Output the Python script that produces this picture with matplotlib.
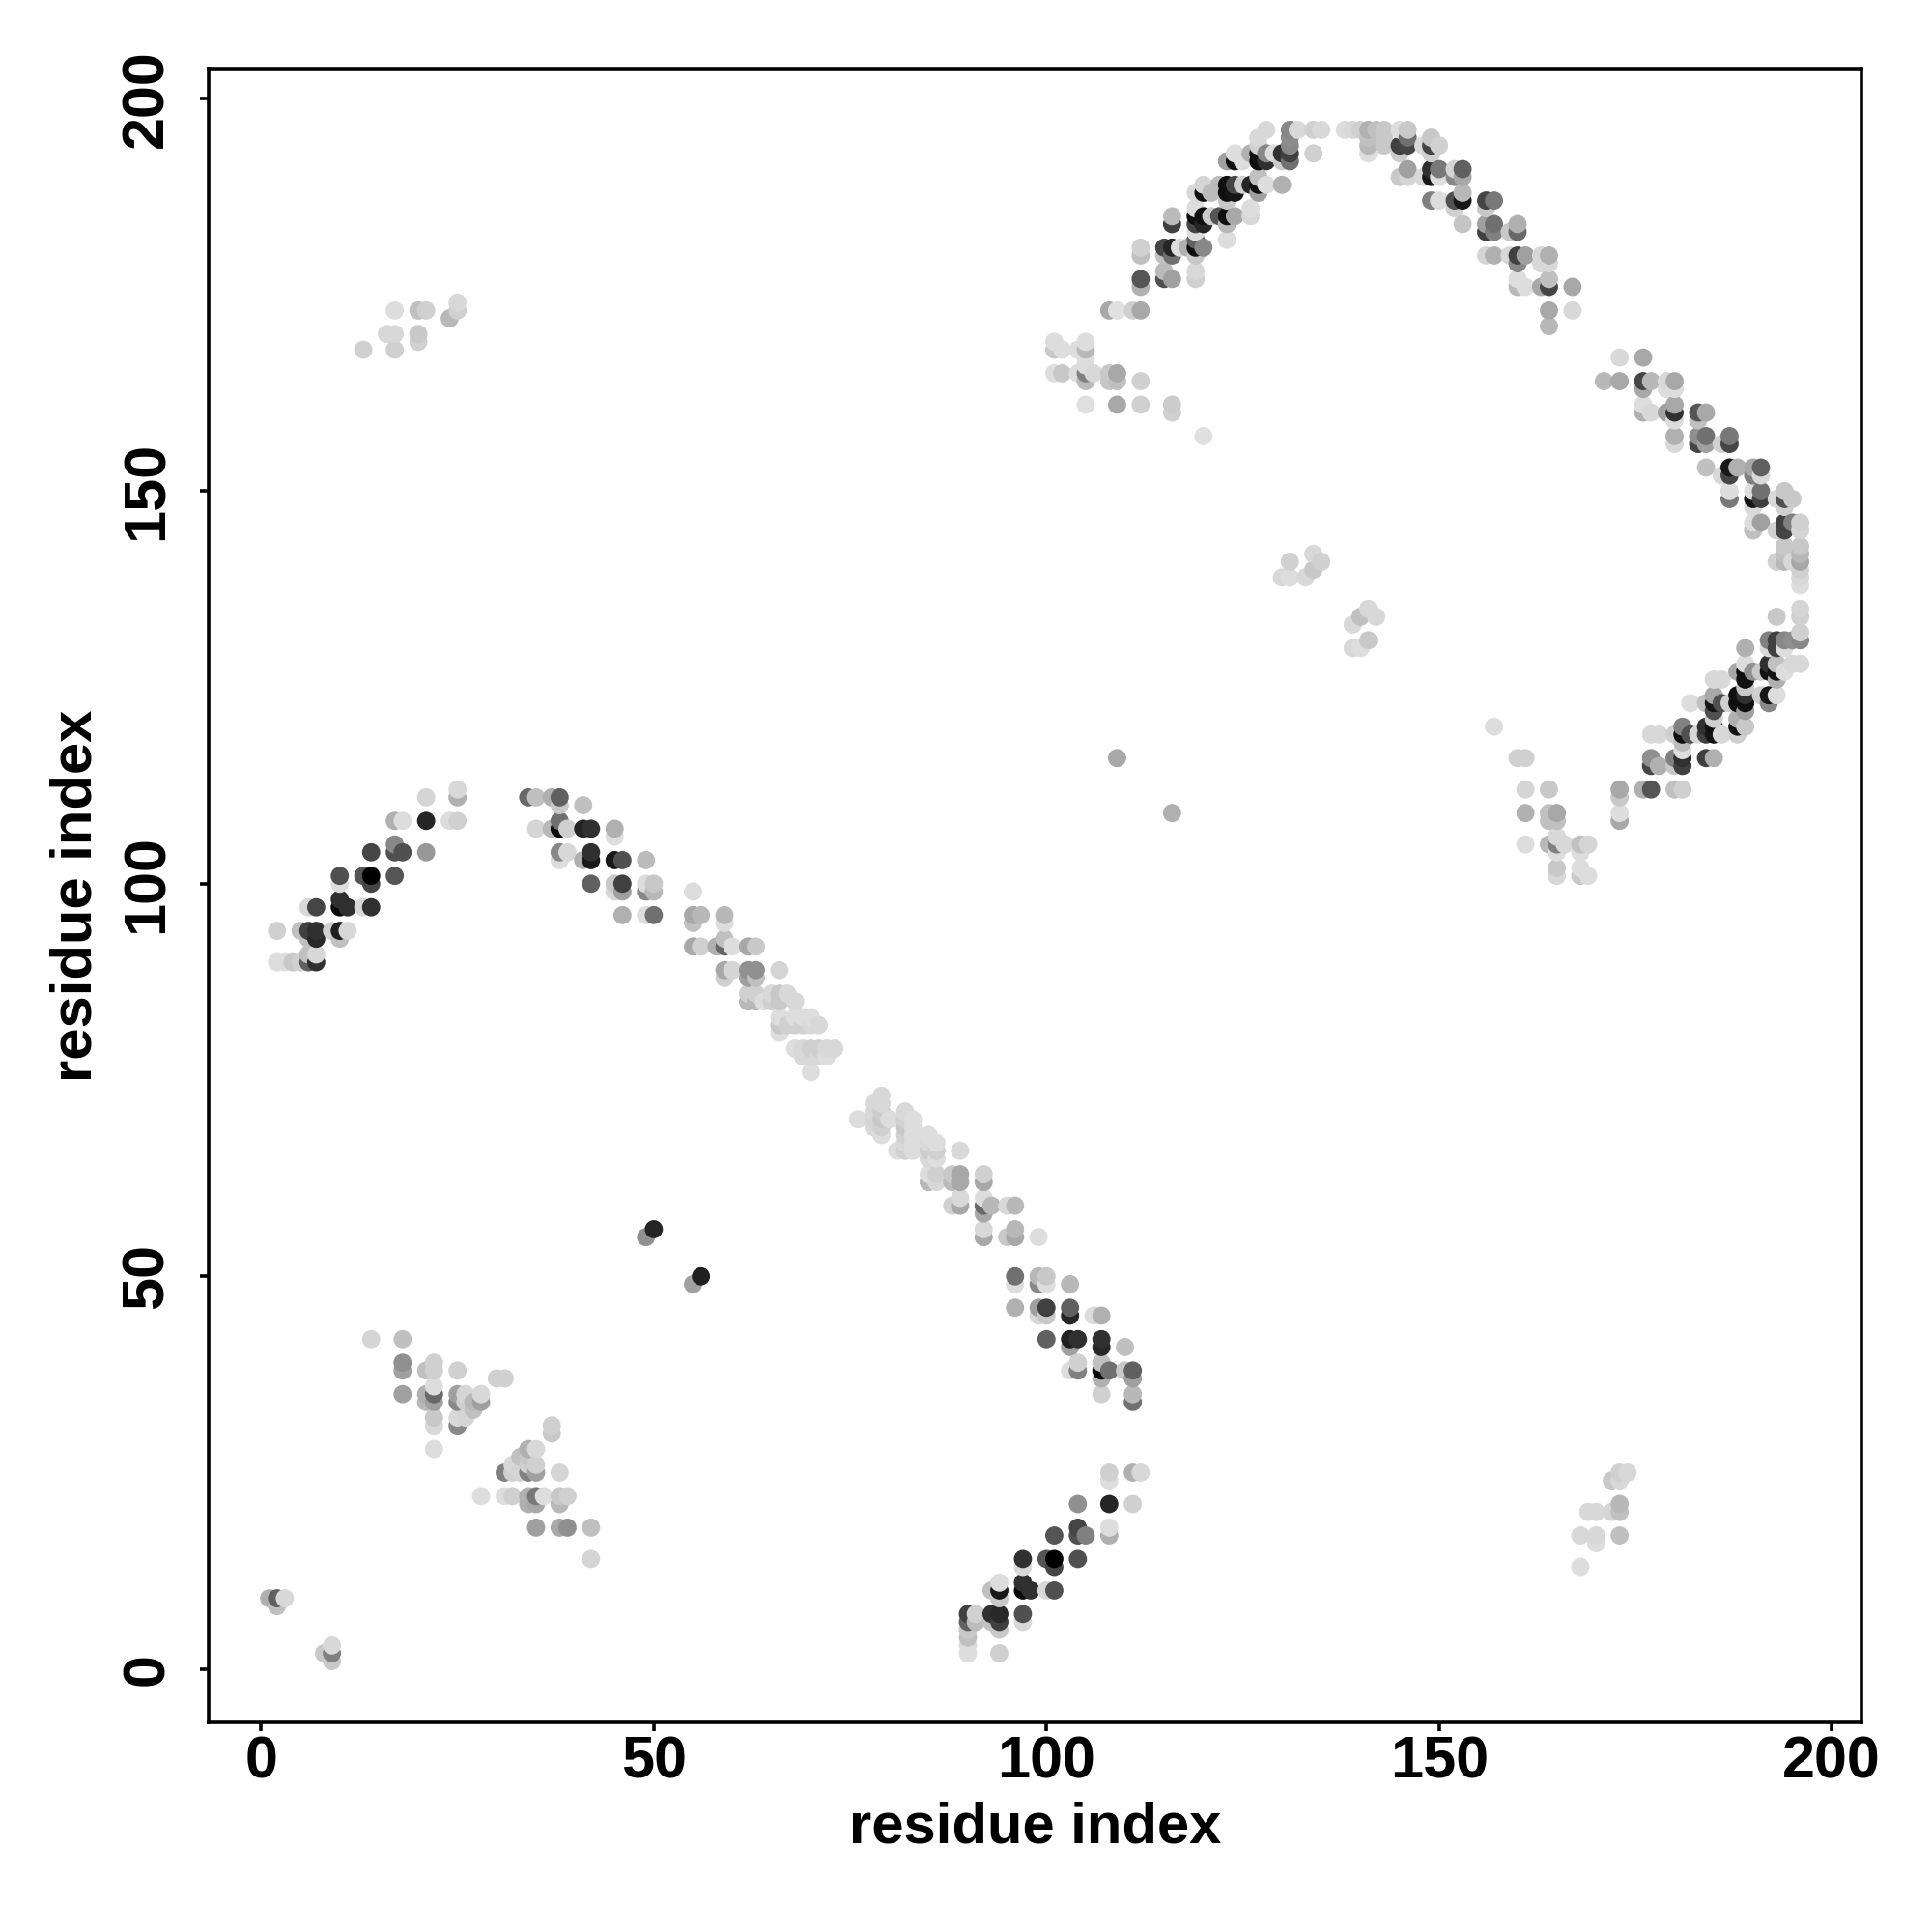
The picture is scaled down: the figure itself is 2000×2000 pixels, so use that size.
import pandas as pd
import matplotlib
matplotlib.use("Agg")
import matplotlib.pyplot as plt

plt.rcParams['font.family'] = ['Liberation Sans', 'DejaVu Sans']

# contacts: (residue i, residue j, grey level 0-255)
top_arm = [
    (101,169,0xdd),(101,168,0xc8),(102,168,0xdd),(105,169,0xdd),(105,168,0xb8),(104,168,0xdd),
    (101,165,0xdd),(102,165,0xc8),(104,165,0xdd),(105,165,0x80),(105,166,0xdd),(105,167,0xdd),(106,165,0xd8),
    (105,164,0xbb),(108,165,0xc8),(108,164,0xc8),(109,165,0xa8),(109,164,0xc0),(112,164,0xd0),
    (105,161,0xe0),(109,161,0xa8),(112,161,0xd0),(116,161,0xcc),(116,160,0xd0),(120,157,0xe0),
    (108,173,0xa8),(109,173,0xe0),(111,173,0xd0),(112,173,0xa8),
    (112,177,0x55),(112,176,0xb0),(115,178,0xbb),(115,177,0x50),(116,177,0xa0),(119,178,0xd8),(119,177,0xd0),
    (112,181,0xd0),(112,180,0xc0),(115,181,0x45),(116,181,0x25),(116,180,0x70),(115,180,0xc0),(117,181,0xdd),
    (118,181,0xb0),(119,181,0x10),(120,181,0x88),(119,180,0xc8),(119,182,0x60),(119,183,0xdd),
    (116,184,0x40),(116,185,0xbb),(119,184,0x45),(120,184,0x25),(119,185,0x10),(120,185,0x10),(119,186,0xdd),
    (121,185,0xcc),(122,185,0x55),(123,185,0x10),(124,185,0xa8),(123,184,0xb8),(126,186,0xdd),(126,185,0xd8),(123,182,0xdd),
    (119,188,0xd8),(120,189,0xd5),(120,188,0x10),(121,188,0xbb),(122,189,0xbb),(123,189,0x10),(123,188,0x10),
    (124,188,0x15),(124,189,0x45),(123,187,0xc8),(125,189,0xd0),(126,189,0x25),(127,188,0xa0),(127,189,0x10),
    (128,189,0xdd),(130,189,0xb0),(127,190,0xc0),
    (123,192,0xa0),(124,193,0xdd),(124,192,0x10),(125,192,0xdd),(126,193,0xb0),(127,193,0x10),(127,192,0x10),
    (128,192,0x30),(128,193,0x88),(129,193,0xdd),(130,193,0x30),(130,192,0xcc),(131,192,0x70),(131,193,0x40),
    (131,194,0x88),(131,195,0x8c),(131,196,0x88),(132,196,0xd8),(127,195,0xd8),(128,196,0xd8),(127,194,0xd0),
    (134,196,0xd0),(135,196,0xd8),(134,193,0xd0),
    (138,196,0xdd),(139,196,0xd8),(140,196,0xd0),(141,196,0xb0),(142,196,0xc0),(143,196,0xc8),(141,195,0xc0),
    (141,194,0xb8),(141,193,0xdd),(143,195,0xc8),(143,194,0xc8),(145,196,0xdd),(146,196,0xc8),
    (145,194,0x40),(146,194,0x45),(146,195,0x70),(145,193,0xcc),
    (149,195,0xc8),(149,194,0x45),(149,193,0xd0),(148,194,0xd8),(150,194,0xd0),
    (146,191,0xa0),(145,190,0xc8),(146,190,0xd5),(148,190,0xd8),(149,191,0x30),(149,190,0x18),(150,191,0x78),
    (150,190,0xdd),(152,191,0xd5),(153,191,0x60),(152,190,0x88),(153,190,0xa8),
    (149,187,0x80),(150,187,0xdd),(152,187,0x50),(153,187,0x18),(153,188,0xb8),(152,186,0xd0),(156,187,0x45),
    (157,187,0x78),(156,186,0xc8),
    (153,184,0xc5),(156,184,0xa0),(157,184,0x70),(156,183,0x40),(157,183,0x80),(159,183,0xc8),(160,184,0xb0),(160,183,0x68),
    (156,180,0xd5),(157,180,0xb0),(159,180,0xd8),(160,180,0x40),(161,180,0xa0),(163,180,0xd8),(164,180,0xb0),
    (160,179,0x88),(163,179,0xd8),(164,179,0xd8),
    (160,177,0xdd),(160,176,0xb8),(161,176,0xdd),(163,176,0xa8),(164,177,0xc0),(164,176,0x45),(167,176,0xa8),
    (164,173,0xa8),(167,173,0xd8),(164,171,0xb8),
]

right_arm = [
    (173,167,0xd8),(176,167,0xa8),(171,164,0xb8),(173,164,0xa8),(176,164,0x45),(177,164,0xb8),(176,163,0xa8),
    (179,164,0xd8),(180,164,0xa8),(179,163,0xdd),(180,163,0xdd),
    (176,161,0xdd),(176,160,0xb0),(177,160,0xd8),(179,160,0xa0),(180,161,0xa8),(180,160,0x30),(180,159,0xdd),
    (183,160,0x55),(184,160,0xa8),(183,159,0xc0),
    (180,157,0xb0),(180,156,0xd8),(183,157,0x90),(184,157,0x70),(183,156,0x45),(184,156,0xa0),(186,156,0xd0),
    (187,157,0x78),(187,156,0x45),
    (184,153,0xc0),(186,152,0xd8),(187,153,0x18),(187,152,0x45),(188,153,0xb0),(190,153,0xa8),(191,153,0x60),
    (190,152,0x80),(191,152,0xd8),
    (187,150,0xdd),(187,149,0x78),(190,150,0xdd),(191,150,0x70),(190,149,0x15),(191,149,0x40),(190,148,0xd8),
    (193,149,0xd8),(194,150,0xc8),(194,149,0x50),(195,149,0xc8),(194,148,0xd0),
    (190,146,0xdd),(191,146,0xa0),(190,145,0xc0),(193,145,0xd0),(194,146,0x40),(194,145,0x45),(195,146,0x80),
    (196,146,0xd0),(196,145,0xd5),
    (196,143,0xc8),(194,143,0xc8),(194,142,0xc0),(194,141,0xb8),(193,141,0xd0),(195,141,0xd8),(196,142,0xb8),
    (196,141,0xa8),(196,140,0xd0),(196,139,0xd8),(196,138,0xdd),
    (196,135,0xd5),(196,134,0xd0),(193,134,0xc8),(196,132,0xd0),(196,131,0x88),
    (192,131,0x80),(193,131,0x40),(194,131,0x88),(195,131,0x90),(193,130,0x40),(194,130,0xdd),(192,130,0xd8),
    (189,130,0xb0),
    (189,128,0xdd),(192,128,0x30),(192,127,0x10),(193,127,0x15),(193,128,0xc0),(194,127,0xdd),(195,128,0xd8),
    (196,128,0xd8),(188,127,0xa8),(189,127,0x10),(190,127,0x90),(191,127,0xc8),(189,126,0x10),(193,126,0xb0),
    (185,126,0xd8),(186,126,0xd8),(189,125,0xc8),
    (188,124,0x10),(189,124,0x30),(191,124,0xd0),(192,124,0x15),(193,124,0xdd),(185,124,0xa8),(188,123,0x10),
    (189,123,0x10),(185,123,0x15),(186,123,0x50),(187,123,0xd0),(184,123,0xc0),(182,123,0xdd),(192,123,0x88),
    (185,122,0x50),(189,122,0xa0),(188,121,0xb0),(185,121,0xd0),
    (181,120,0x80),(182,119,0x50),(184,120,0x30),(185,120,0x10),(188,120,0x10),(189,120,0xc8),(177,119,0xd8),
    (178,119,0xd8),(180,119,0xd0),(181,119,0x10),(183,119,0xd8),(184,119,0x40),(185,119,0x15),(186,119,0xd8),(188,119,0xd0),
    (181,118,0xbb),(181,117,0xdd),(177,116,0x90),(180,116,0x80),(181,116,0x30),(184,116,0x40),(185,116,0xb0),
    (177,115,0x45),(178,115,0xb0),(180,115,0xc8),(181,115,0x40),
    (173,112,0xa8),(173,111,0xc8),(176,112,0xb0),(177,112,0x55),(180,112,0xc0),(181,112,0xd0),(173,109,0xdd),(173,108,0xa8),
]

v_patch = [
    (157,120,0xdd),(160,116,0xd0),(161,116,0xd0),(161,112,0xd5),(164,112,0xc8),(161,109,0xb0),(164,109,0xc0),
    (165,109,0xa8),(164,108,0xc0),(165,108,0xc0),(161,105,0xdd),(164,105,0xb8),(165,106,0xd8),(165,105,0x80),
    (166,105,0xd8),(168,105,0xc0),(169,105,0xd5),(165,104,0xdd),(168,104,0xdd),(165,102,0xc8),(165,101,0xd8),
    (168,102,0xdd),(168,101,0xc8),(169,101,0xdd),
]

scattered = [
    (109,116,0xa8),(116,109,0xb0),
    (130,139,0xd8),(131,139,0xdd),(131,141,0xd0),(133,139,0xd8),(134,140,0xc8),(134,142,0xd8),(135,141,0xd0),
    (139,130,0xd8),(140,130,0xdd),(141,131,0xc8),(139,133,0xd8),(140,134,0xc0),(141,135,0xd8),(142,134,0xd8),
    (13,168,0xd0),(16,170,0xd8),(17,170,0xd8),(17,168,0xd0),(17,173,0xdd),(20,169,0xd0),(20,170,0xc8),
    (20,173,0xc0),(21,173,0xd0),(24,172,0xb8),(25,173,0xd0),(25,174,0xd8),
    (1,9,0xb0),(2,9,0x60),(2,8,0xc0),(3,9,0xd8),(8,2,0xc8),(9,1,0xc8),(9,2,0x80),(9,3,0xd8),
    (49,55,0x90),(50,56,0x25),(55,49,0xa0),(56,50,0x20),
    (168,13,0xdd),(168,17,0xd8),(170,17,0xd8),(170,16,0xdd),(169,20,0xd8),(170,20,0xd8),(172,20,0xd5),
    (173,20,0xc0),(173,21,0xb8),(173,17,0xc0),(172,24,0xc8),(173,25,0xd0),(174,25,0xd8),(173,24,0xd8),
]

left_arm = [
    (2,90,0xdd),(3,90,0xdd),(4,90,0xc8),(5,90,0xd0),(6,90,0x60),(7,90,0x30),(6,91,0xc0),(7,91,0xd8),
    (2,94,0xd0),(5,94,0xc0),(6,94,0x40),(7,94,0x30),(6,93,0xc0),(7,93,0x28),(9,94,0xd0),(10,94,0x20),(11,94,0xd8),(10,93,0xc0),
    (6,97,0xd8),(7,97,0x45),(10,98,0x30),(10,97,0x08),(11,97,0x30),(13,97,0xd8),(14,97,0x30),
    (10,101,0x50),(10,100,0xdd),(13,101,0x55),(14,101,0x00),(14,100,0x45),(17,101,0x55),
    (14,104,0x45),(17,105,0x88),(17,104,0x50),(18,104,0x50),(21,104,0x98),
    (17,108,0xb0),(18,108,0xdd),(21,108,0x25),(24,108,0xdd),(25,108,0xd0),
    (21,111,0xd5),(25,111,0xb0),(25,112,0xd8),
]

mid_strand = [
    (34,111,0x68),(35,111,0xc0),(37,111,0xb0),(38,111,0x60),(38,110,0xc8),(41,110,0xc0),
    (35,107,0xd5),(37,107,0xb8),(38,108,0x70),(38,107,0x08),(39,107,0xd0),(41,107,0x25),(42,107,0x30),(45,107,0xb0),(45,106,0xdd),
    (38,104,0x88),(39,104,0xd8),(38,103,0xdd),(41,103,0xb0),(42,104,0x30),(42,103,0x18),(45,103,0x18),(46,103,0x50),(49,103,0xbb),
    (42,100,0x60),(45,100,0xc8),(46,100,0x40),(45,99,0xd8),(46,99,0xa0),(49,100,0xdd),(50,100,0xc8),(49,99,0x88),(50,99,0xb8),
    (46,96,0xb0),(49,96,0xdd),(50,96,0x70),
    (55,99,0xdd),(55,96,0xa8),(56,96,0xb8),(55,95,0xc0),(59,96,0xb8),(59,95,0xdd),
    (55,92,0xa8),(56,92,0xd0),(58,92,0xb0),(59,93,0xc0),(59,92,0x68),(60,92,0xdd),(62,92,0xa8),(63,92,0xc8),
    (59,89,0xa8),(60,89,0xd5),(59,88,0xd0),(62,89,0x90),(63,89,0x90),(62,88,0xa0),(63,88,0xc0),(66,89,0xd5),
    (62,86,0xd0),(63,86,0xd0),(62,85,0xb8),(63,85,0xb8),(64,85,0xdd),(65,86,0xd8),(65,85,0xd0),(66,86,0xc8),
    (66,85,0xc8),(67,86,0xd8),(68,85,0xd8),
    (66,83,0xdd),(66,82,0xc8),(66,81,0xdd),(67,82,0xd0),(68,83,0xdd),(68,82,0xd0),(69,83,0xdd),(69,82,0xd0),
    (70,83,0xdd),(70,82,0xd8),(71,82,0xd8),
    (68,79,0xdd),(69,79,0xd8),(69,78,0xd8),(70,79,0xd0),(70,78,0xd8),(71,79,0xd0),(72,79,0xd8),(73,79,0xd8),
    (71,78,0xd8),(72,78,0xdd),(70,76,0xdd),
]

lower_strand = [
    (76,70,0xdd),(79,73,0xd8),(78,72,0xd8),(79,72,0xd8),(78,71,0xd8),(79,71,0xcc),(78,70,0xd5),(79,70,0xc8),
    (78,69,0xd8),(79,69,0xd0),(79,68,0xdd),(80,70,0xdd),
    (82,71,0xd8),(83,70,0xdd),(82,70,0xd0),(82,69,0xc8),(82,68,0xd0),(83,69,0xdd),(83,68,0xdd),(81,66,0xdd),
    (82,66,0xd0),(83,66,0xdd),(82,67,0xd8),(83,67,0xdd),
    (85,68,0xdd),(85,67,0xd8),(86,67,0xdd),(85,66,0xcc),(86,66,0xd0),(85,65,0xd8),(86,65,0xdd),(85,63,0xdd),
    (85,62,0xb8),(86,63,0xd0),(86,62,0xd8),(88,62,0xbb),(88,63,0xc8),(89,63,0xa8),(89,62,0xa8),(89,66,0xd8),
    (92,63,0xd0),(92,62,0xa8),
    (88,59,0xd0),(89,60,0xd8),(89,59,0xa8),(92,60,0xdd),(92,59,0x68),(92,58,0xa8),(93,59,0xb8),(95,59,0xd8),(96,59,0xb8),
    (92,56,0xd8),(92,55,0xa8),(95,55,0xc8),(96,56,0xb8),(96,55,0xa8),(99,55,0xdd),
    (96,50,0x70),(96,49,0xdd),(99,50,0xb8),(100,50,0xc8),(99,49,0x88),(100,49,0xdd),(103,49,0xb8),
    (96,46,0xb0),(99,46,0xa0),(100,46,0x40),(99,45,0xd8),(100,45,0xc8),(103,46,0x60),(103,45,0x25),(106,45,0xdd),(107,45,0xb0),
    (100,42,0x60),(103,42,0x20),(104,42,0x30),(103,41,0xa0),(107,42,0x30),(107,41,0x28),(110,41,0xc0),
    (103,38,0xdd),(104,39,0xd0),(104,38,0x80),(107,39,0xc0),(107,38,0x05),(108,38,0x70),(107,37,0xb0),
    (110,38,0xc8),(111,38,0x60),(111,37,0xa0),(107,35,0xd0),(111,35,0xb8),(111,34,0x70),
]

bottom_strand = [
    (90,2,0xdd),(90,3,0xdd),(90,4,0xc0),(90,5,0xc8),(90,6,0x60),(90,7,0x40),(91,7,0xd0),(91,6,0xbb),(93,7,0x30),
    (94,7,0x28),(94,6,0x40),(94,5,0xc8),(93,6,0xc0),(94,2,0xd0),(97,7,0x50),(97,6,0xd8),
    (93,10,0xc0),(94,10,0x18),(94,9,0xc8),(94,11,0xdd),(97,11,0x30),(97,10,0x05),(98,10,0x30),(100,10,0xd8),(101,10,0x50),
    (97,14,0x30),(97,13,0xd8),(100,14,0x55),(101,14,0x00),(101,13,0x45),(104,14,0x50),
    (101,17,0x55),(104,18,0x45),(104,17,0x50),(105,17,0x80),(108,17,0xb0),(108,18,0xdd),(104,21,0x90),(108,21,0x25),
    (111,21,0xd0),(108,24,0xdd),(108,25,0xd0),(111,25,0xb0),(112,25,0xd8),
]

lower_left = [
    (14,42,0xd5),(18,42,0xc0),(18,38,0xa0),(18,39,0x90),(18,35,0xa0),(21,38,0xc0),(22,39,0xd0),(22,38,0xd0),
    (25,38,0xd0),(30,37,0xd0),(31,37,0xd0),
    (21,35,0xb0),(21,34,0xb8),(22,36,0xdd),(22,35,0x68),(22,34,0xa0),(25,35,0xa0),(25,34,0x88),(26,35,0xd5),
    (26,34,0xd0),(27,34,0xb8),(28,34,0xa0),(28,35,0xd8),(27,33,0xc0),
    (22,32,0xc8),(22,31,0xd8),(25,32,0xd8),(25,31,0x88),(26,32,0xd5),(22,28,0xdd),
    (37,31,0xd0),(37,30,0xc8),(34,28,0xb0),(35,28,0xd8),(33,27,0xc0),(34,27,0xc8),(32,26,0xd8),(35,26,0xd0),(34,26,0xd0),
    (31,25,0x80),(32,25,0xd0),(33,25,0xd5),(34,25,0x80),(35,25,0xa0),(38,25,0xd5),
    (28,22,0xdd),(31,22,0xdd),(32,22,0xd0),(34,22,0xb0),(35,22,0x78),(36,22,0xdd),(38,22,0xc8),(39,22,0xd0),
    (34,21,0xb0),(35,21,0xa8),(38,21,0xb8),
    (35,18,0xa0),(38,18,0xa8),(39,18,0x90),(42,18,0xc0),(42,14,0xd5),
]

# %%
clusters = top_arm + right_arm + v_patch + scattered + left_arm + mid_strand + lower_strand + bottom_strand + lower_left
df = pd.DataFrame(clusters, columns=['i', 'j', 'grey'])
# later residues sit on top of earlier ones
df = df.sort_values(['i', 'j'])
colors = [(g / 255, g / 255, g / 255) for g in df['grey']]

# %%
fig = plt.figure(figsize=(10, 10), dpi=200)
ax = fig.add_axes([216 / 2000, 1 - 1783 / 2000, (1927 - 216) / 2000, (1783 - 71) / 2000])
ax.scatter(df['i'], df['j'], c=colors, s=46, linewidths=0)

ax.set_xlim(-6.7, 203.8)
ax.set_ylim(-6.8, 203.8)
ax.set_xticks([0, 50, 100, 150, 200])
ax.set_yticks([0, 50, 100, 150, 200])
ax.tick_params(length=3.3, width=1.3, labelsize=22)
ax.tick_params(axis='x', pad=1.7)
ax.tick_params(axis='y', pad=9)
for lab in ax.get_xticklabels() + ax.get_yticklabels():
    lab.set_fontweight('bold')
for lab in ax.get_yticklabels():
    lab.set_rotation(90)
    lab.set_va('center')
for s in ax.spines.values():
    s.set_linewidth(1.3)

ax.set_xlabel('residue index', fontsize=21.5, fontweight='bold', va='center')
ax.set_ylabel('residue index', fontsize=21.5, fontweight='bold', va='center')
ax.xaxis.set_label_coords(0.5, -0.0637)
ax.yaxis.set_label_coords(-0.080, 0.5)

fig.savefig('out.png', dpi=200, facecolor='white')
